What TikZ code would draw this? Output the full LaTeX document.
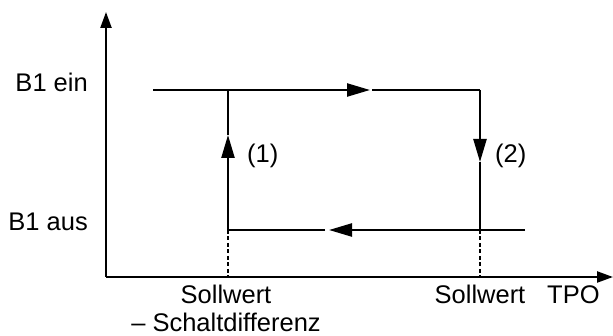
\documentclass[tikz,border=0pt]{standalone}
\usepackage{fontspec}
\setmainfont{Liberation Sans}
\usetikzlibrary{arrows.meta}
\tikzset{
  line/.style={line width=2.3pt},
  axis/.style={line width=2.3pt,-{Triangle[length=16pt,width=11pt]}},
  flow/.style={line width=2.3pt,-{Triangle[length=23pt,width=13pt]}},
  guide/.style={line width=1.2pt,dash pattern=on 4pt off 2.5pt},
  lbl/.style={inner sep=0pt,font=\fontsize{25.5}{30}\selectfont},
}
\begin{document}
\begin{tikzpicture}[x=1pt,y=-1pt]
\useasboundingbox (0,0) rectangle (613,336);
% coordinates
\coordinate (O) at (106,277);
\coordinate (Ytop) at (106,12);
\coordinate (Xend) at (613,277);
\coordinate (a) at (153,90);
\coordinate (b) at (228,90);
\coordinate (c) at (480,90);
\coordinate (d) at (228,230);
\coordinate (e) at (480,230);
\coordinate (f) at (525,230);
\coordinate (t1) at (370,90);
\coordinate (t1g) at (372,90);
\coordinate (t2) at (228,135);
\coordinate (t3) at (480,162);
\coordinate (t4) at (329,230);
\coordinate (t4g) at (325,230);
\coordinate (dl) at (228,277);
\coordinate (dr) at (480,277);
% axes
\draw[axis] (O) -- (Ytop);
\draw[axis] (O) -- (Xend);
% guides
\draw[guide] (d) -- (dl);
\draw[guide] (e) -- (dr);
% hysteresis loop
\draw[flow] (a) -- (t1);
\draw[line] (t1g) -- (c);
\draw[flow] (c) -- (t3);
\draw[line] (t3) -- (e);
\draw[flow] (f) -- (t4);
\draw[line] (t4g) -- (d);
\draw[flow] (d) -- (t2);
\draw[line] (t2) -- (b);
% labels
\node[lbl,anchor=base east] (ein) at (88,92) {B1 ein};
\node[lbl,anchor=base east] (aus) at (88,231) {B1 aus};
\node[lbl,anchor=base west] (l1) at (247,163) {(1)};
\node[lbl,anchor=base west] (l2) at (495,163) {(2)};
\node[lbl,anchor=base] (sw1) at (226,304) {Sollwert};
\node[lbl,anchor=base] (sd) at (226,332) {– Schaltdifferenz};
\node[lbl,anchor=base] (sw2) at (480,304) {Sollwert};
\node[lbl,anchor=base west] (tpo) at (547,304) {TPO};
\end{tikzpicture}
\end{document}
